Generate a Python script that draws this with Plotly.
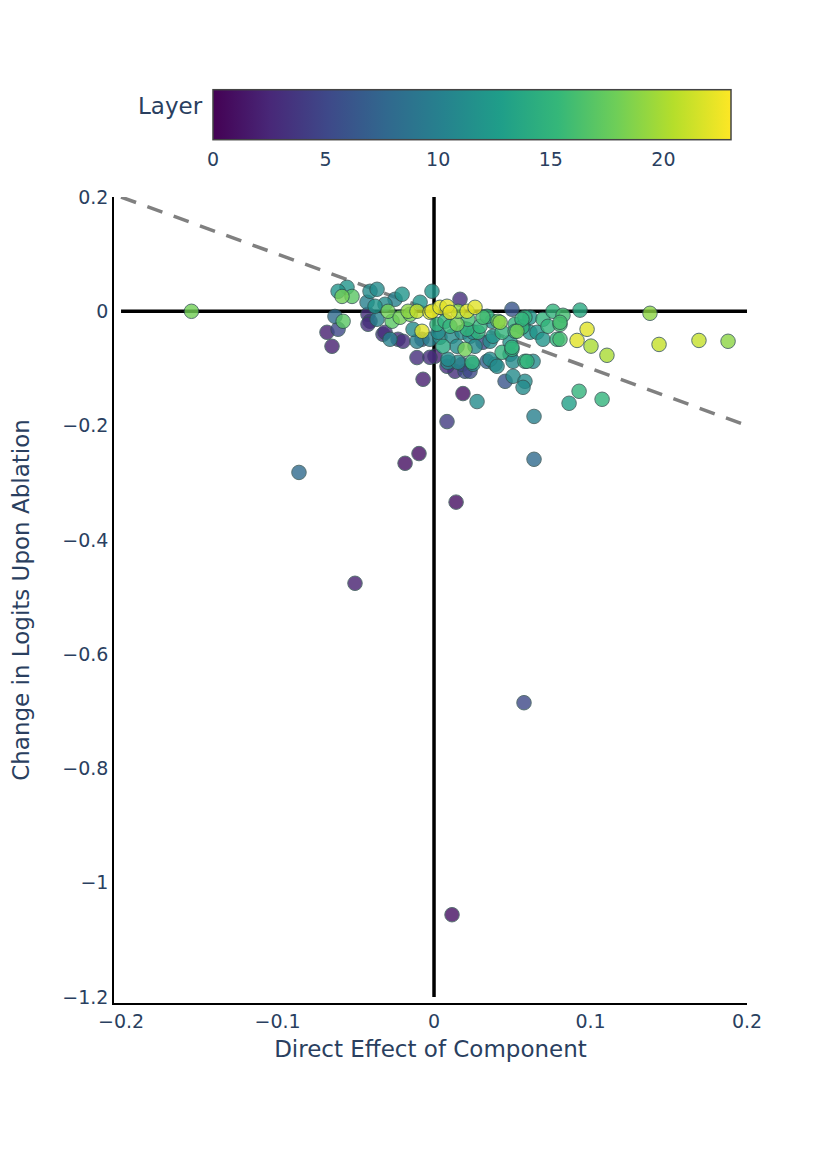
import numpy as np
import plotly.graph_objects as go

# direct effect (x), change in logits on ablation (y), layer of each component
direct_effect = [
    -0.155, -0.0863, -0.0505, -0.0185, -0.0096, 0.0083, 0.0141, 0.0575, 0.0115, 0.0639,
    0.0639, 0.0275, 0.0185, -0.007, -0.0109, 0.0927, 0.0863, 0.1074,
    0.0933, 0.138, 0.0824, 0.0805, 0.0978, 0.0914, 0.0805, 0.1003, 0.1105, 0.1438, 0.1693, 0.1879,
    -0.0588, -0.0524, -0.0556, -0.0613, -0.0633, -0.0581, -0.0613, -0.0684, -0.0652,
    -0.0409, -0.0364, -0.0428, -0.0377, -0.0422, -0.0409, -0.0204, -0.0249, -0.0313, -0.0294,
    -0.0217, -0.0268, -0.0326, -0.0281, -0.023, -0.0166, -0.0109, -0.0089, -0.0077, -0.0109,
    -0.0198, -0.0153, -0.0364, -0.0422, -0.0313, -0.0134, -0.0077, -0.0026, -0.0026,
    -0.0013, 0.0166, -0.0013, 0.0038, 0.0083, 0.0102, 0.0153, 0.0211, 0.0262, 0.0498,
    0.0019, 0.007, 0.0147, 0.0217, 0.0313, 0.0371, 0.0422, 0.0435, 0.0518, 0.0562, 0.0581,
    0.0038, 0.0115, 0.0179, 0.023, 0.0281, 0.0358, 0.0313, 0.0058, 0.0147, 0.0198, 0.0262,
    0.0435, 0.0486, 0.0581, 0.0505, 0.0006, 0.0089, 0.0153, 0.0249, 0.0339, 0.039, 0.0134,
    0.0198, 0.0505, 0.0581, 0.0569, 0.0454, 0.0026, 0.0102, 0.0211, 0.0249, 0.0294, 0.0339,
    0.0409, 0.0377, 0.0518, 0.0562, 0.0569, 0.0613, 0.0696, 0.0728, 0.0805, 0.0786, 0.0498,
    0.0358, 0.0403, 0.0594, 0.0633, 0.0243, 0.0179, 0.023, 0.0083, 0.0089, -0.0026, 0.076,
    0.0613, 0.053, 0.0658, 0.0696, 0.0486, 0.0498,
]
logit_change = [
    0.0, -0.282, -0.476, -0.266, -0.249, -0.193, -0.334, -0.685, -1.056, -0.259,
    -0.184, -0.158, -0.144, -0.119, -0.081, -0.14, -0.161, -0.154,
    0.002, -0.0035, -0.007, -0.023, -0.0315, -0.051, -0.049, -0.061, -0.077, -0.058, -0.051, -0.0525,
    0.026, 0.026, 0.042, 0.035, -0.009, -0.0175, -0.0315, -0.0368, -0.0613,
    0.035, 0.0385, 0.0158, 0.0088, -0.0053, -0.0175, 0.0298, 0.021, 0.0123, 0.0,
    -0.0105, -0.0175, -0.0403, -0.049, -0.049, 0.0, 0.0, 0.0158, -0.035, -0.0525,
    -0.0525, -0.0053, -0.014, -0.0228, -0.0368, -0.0315, -0.049, -0.049, -0.0018,
    0.035, 0.021, 0.0, 0.007, 0.0088, -0.0018, 0.0, 0.0, 0.007, 0.0035,
    -0.0228, -0.0175, -0.0228, -0.014, -0.0105, -0.0175, -0.0193, -0.0368, -0.0228, -0.028, -0.0105,
    -0.0455, -0.0438, -0.0368, -0.0438, -0.0368, -0.0525, -0.0543, -0.0613, -0.0613, -0.0665, -0.0613,
    -0.0718, -0.0753, -0.0876, -0.0876, -0.0788, -0.0893, -0.0893, -0.0928, -0.0876, -0.0928, -0.105,
    -0.105, -0.1138, -0.1226, -0.1331, -0.1226, -0.0368, -0.0263, -0.0315, -0.0368, -0.0263, -0.0088,
    -0.0175, -0.0438, -0.035, -0.014, -0.0263, -0.0368, -0.014, -0.0263, -0.0193, -0.049, -0.0665,
    -0.084, -0.0963, -0.0876, -0.0876, -0.0893, -0.0928, -0.105, -0.0963, -0.084, -0.0806, 0.0,
    -0.0105, -0.035, -0.0368, -0.049, -0.0543, -0.063,
]
layer = [
    18, 8, 2, 1, 1, 4, 1, 5, 1, 8,
    10, 11, 1, 2, 3, 15, 13, 15,
    14, 19, 16, 16, 22, 22, 16, 20, 20, 21, 21, 19,
    18, 17, 12, 12, 8, 17, 5, 2, 2,
    11, 11, 10, 12, 3, 3, 12, 10, 11, 18,
    18, 17, 3, 10, 3, 19, 21, 12, 22, 10,
    3, 18, 10, 3, 3, 11, 5, 10, 22,
    12, 3, 22, 22, 22, 22, 19, 22, 22, 6,
    15, 15, 18, 16, 16, 11, 19, 15, 15, 15, 15,
    11, 11, 11, 11, 15, 11, 5, 14, 11, 18, 11,
    15, 11, 15, 11, 2, 11, 11, 11, 7, 11, 3,
    5, 11, 11, 11, 6, 11, 15, 15, 11, 15, 15,
    18, 12, 15, 15, 12, 12, 15, 15, 16, 15, 15,
    11, 11, 15, 11, 15, 5, 5, 3, 11, 3, 15,
    12, 18, 12, 12, 12, 15,
]
layer_ticks = [0, 5, 10, 15, 20]
x_ticks = [-0.2, -0.1, 0, 0.1, 0.2]
y_ticks = [-1.2, -1, -0.8, -0.6, -0.4, -0.2, 0, 0.2]

def minus(v):
    return f"{v:g}".replace("-", "\u2212")

order = np.argsort(layer, kind="stable")  # later layers drawn on top
x = np.array(direct_effect)[order]
y = np.array(logit_change)[order]
c = np.array(layer)[order]

font = "DejaVu Sans"
fig = go.Figure()
# reference lines
fig.add_trace(go.Scatter(x=[-0.2, 0.2], y=[0.2, -0.2], mode="lines",
                         line=dict(color="gray", width=3.5, dash="16px,12px"), showlegend=False, hoverinfo="skip"))
fig.add_trace(go.Scatter(x=[-0.2, 0.2], y=[0, 0], mode="lines",
                         line=dict(color="black", width=3.5), showlegend=False, hoverinfo="skip"))
fig.add_trace(go.Scatter(x=[0, 0], y=[-1.2, 0.2], mode="lines",
                         line=dict(color="black", width=3.5), showlegend=False, hoverinfo="skip"))
fig.add_trace(go.Scatter(
    x=x, y=y, mode="markers", showlegend=False,
    marker=dict(size=14.5, color=c, colorscale="Viridis", cmin=0, cmax=23, opacity=0.8,
                line=dict(color="DarkSlateGrey", width=1),
                colorbar=dict(orientation="h", title=dict(text=""),
                              x=0.5655, xanchor="center", y=1.0323, yanchor="bottom", ypad=0, xpad=0,
                              len=0.818, thickness=50, outlinecolor="#444", outlinewidth=1.5,
                              tickvals=layer_ticks, tickfont=dict(size=19, family=font),
                              ticks="outside", ticklen=3, tickcolor="rgba(0,0,0,0)"))))
fig.add_annotation(text="Layer", xref="paper", yref="paper", x=0.144, y=1.113,
                   xanchor="right", yanchor="middle", showarrow=False, font=dict(size=23))

fig.update_xaxes(range=[-0.2045, 0.2], tickvals=x_ticks, ticktext=[minus(v) for v in x_ticks],
                 showline=True, linecolor="black", linewidth=1.5, showgrid=False, zeroline=False, automargin=False,
                 title=dict(text="Direct Effect of Component", font=dict(size=23), standoff=10), tickfont=dict(size=19))
fig.update_yaxes(range=[-1.2105, 0.2], tickvals=y_ticks, ticktext=[minus(v) for v in y_ticks],
                 showline=True, linecolor="black", linewidth=1.5, showgrid=False, zeroline=False, automargin=False,
                 title=dict(text="Change in Logits Upon Ablation", font=dict(size=23), standoff=44), tickfont=dict(size=19))
fig.update_layout(width=815, height=1147, plot_bgcolor="white", paper_bgcolor="white",
                  font=dict(family=font, color="#2a3f5f"),
                  margin=dict(l=106, r=76, t=189, b=152))
fig.write_html("out.html")
